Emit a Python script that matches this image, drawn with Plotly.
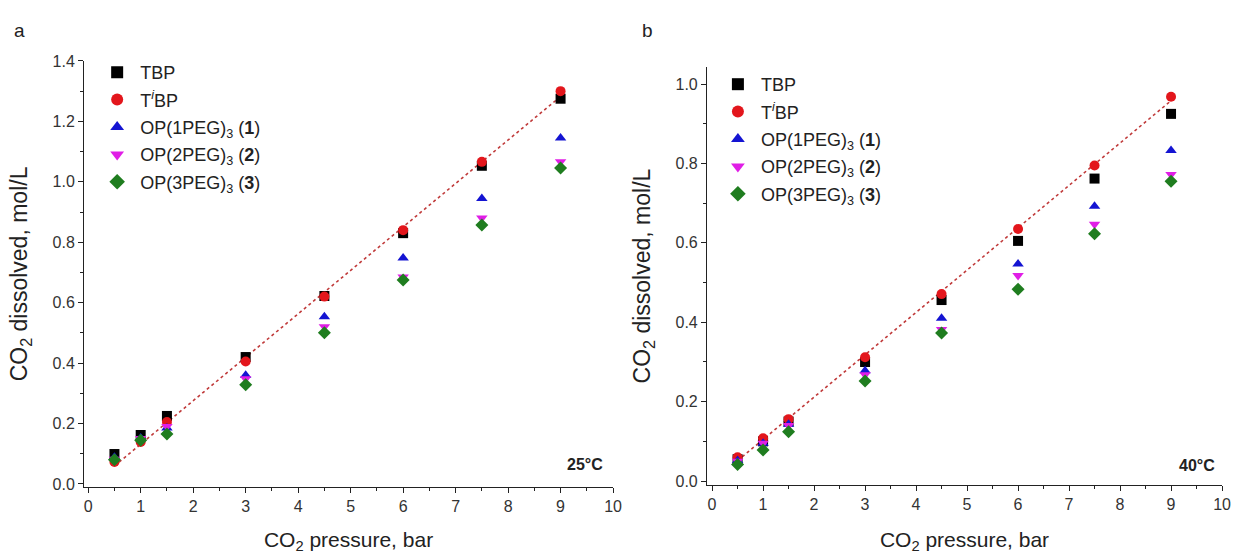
import numpy as np
import plotly.graph_objects as go

pressure = [0.5, 1, 1.5, 3, 4.5, 6, 7.5, 9]

# panel a, 25 °C
tbp_25 = [0.099, 0.162, 0.225, 0.420, 0.622, 0.830, 1.053, 1.275]
tibp_25 = [0.073, 0.139, 0.205, 0.405, 0.620, 0.840, 1.066, 1.300]
op1_25 = [0.088, 0.152, 0.185, 0.360, 0.553, 0.748, 0.945, 1.145]
op2_25 = [0.082, 0.150, 0.190, 0.348, 0.520, 0.685, 0.880, 1.066]
op3_25 = [0.080, 0.145, 0.165, 0.328, 0.500, 0.675, 0.857, 1.046]

# panel b, 40 °C
tbp_40 = [0.055, 0.100, 0.150, 0.300, 0.456, 0.605, 0.762, 0.925]
tibp_40 = [0.060, 0.108, 0.156, 0.312, 0.471, 0.635, 0.795, 0.968]
op1_40 = [0.052, 0.095, 0.143, 0.278, 0.410, 0.547, 0.692, 0.833]
op2_40 = [0.050, 0.095, 0.140, 0.268, 0.382, 0.518, 0.647, 0.772]
op3_40 = [0.042, 0.078, 0.124, 0.252, 0.373, 0.483, 0.623, 0.755]

names = ["TBP", "T<sup><i>i</i></sup>BP", "OP(1PEG)<sub>3</sub> (<b>1</b>)",
         "OP(2PEG)<sub>3</sub> (<b>2</b>)", "OP(3PEG)<sub>3</sub> (<b>3</b>)"]
symbols = ["square", "circle", "triangle-up", "triangle-down", "diamond"]
colors = ["#000000", "#e3161c", "#1414d2", "#e01ee6", "#1f7d1f"]

panels = [
    ("x", "y", "legend", [tbp_25, tibp_25, op1_25, op2_25, op3_25]),
    ("x2", "y2", "legend2", [tbp_40, tibp_40, op1_40, op2_40, op3_40]),
]

fig = go.Figure()
for xa, ya, leg, series in panels:
    # dotted linear fit through the TiBP points
    k, b = np.polyfit(pressure, series[1], 1)
    xs = np.array([pressure[0], pressure[-1]])
    fig.add_trace(go.Scatter(x=xs, y=k * xs + b, mode="lines", xaxis=xa, yaxis=ya,
                             line=dict(color="#c03a3a", width=1.6, dash="dot"),
                             showlegend=False, hoverinfo="skip"))
    for name, vals, sym, col in zip(names, series, symbols, colors):
        fig.add_trace(go.Scatter(x=pressure, y=vals, mode="markers", name=name,
                                 xaxis=xa, yaxis=ya, legend=leg, legendgroup=leg + name,
                                 marker=dict(symbol=sym, color=col, size=10)))

font = dict(family="Liberation Sans, Arial, sans-serif", size=16, color="#333333")
minor = dict(ticklen=3, ticks="outside", tickcolor="#222222")
axis_common = dict(showline=True, linecolor="#222222", linewidth=1, ticks="outside",
                   ticklen=5, tickcolor="#222222", showgrid=False, zeroline=False,
                   automargin=False, tickfont=dict(size=16, color="#333333"))
xtitle = dict(text="CO<sub>2</sub> pressure, bar", font=dict(size=21, color="#222222"), standoff=22)
ytitle = dict(text="CO<sub>2</sub> dissolved, mol/L", font=dict(size=23, color="#222222"), standoff=18)
legend_style = dict(xanchor="left", yanchor="top", bgcolor="rgba(0,0,0,0)",
                    font=dict(size=18, color="#222222"), tracegroupgap=1,
                    itemsizing="constant", itemwidth=36, traceorder="grouped")

fig.update_layout(
    width=1239, height=554, margin=dict(l=0, r=0, t=0, b=0),
    plot_bgcolor="white", paper_bgcolor="white", font=font,
    xaxis=dict(domain=[0.0678, 0.4948], range=[-0.08, 10], dtick=1, anchor="y",
               minor=dict(dtick=0.5, **minor), title=xtitle, **axis_common),
    yaxis=dict(domain=[0.121, 0.89], range=[-0.01, 1.4], dtick=0.2, tickformat=".1f",
               anchor="x", minor=dict(dtick=0.1, **minor), title=ytitle, **axis_common),
    xaxis2=dict(domain=[0.5706, 0.9863], range=[-0.1, 10], dtick=1, anchor="y2",
                minor=dict(dtick=0.5, **minor), title=xtitle, **axis_common),
    yaxis2=dict(domain=[0.1245, 0.879], range=[-0.01, 1.043], dtick=0.2, tickformat=".1f",
                anchor="x2", minor=dict(dtick=0.1, **minor), title=ytitle, **axis_common),
    legend=dict(x=0.076, y=1 - 54 / 554, **legend_style),
    legend2=dict(x=0.577, y=1 - 66 / 554, **legend_style),
    annotations=[
        dict(text="a", x=12 / 1239, y=1 - 18 / 554, xref="paper", yref="paper",
             showarrow=False, xanchor="left", font=dict(size=19, color="#222222")),
        dict(text="b", x=640 / 1239, y=1 - 18 / 554, xref="paper", yref="paper",
             showarrow=False, xanchor="left", font=dict(size=19, color="#222222")),
        dict(text="<b>25°C</b>", x=9.85, y=0.065, xref="x", yref="y", showarrow=False,
             xanchor="right", font=dict(size=16, color="#222222")),
        dict(text="<b>40°C</b>", x=9.9, y=0.04, xref="x2", yref="y2", showarrow=False,
             xanchor="right", font=dict(size=16, color="#222222")),
    ],
)

fig.write_html("out.html", config={"displayModeBar": False},
               post_script="document.body.style.margin = '0';")
